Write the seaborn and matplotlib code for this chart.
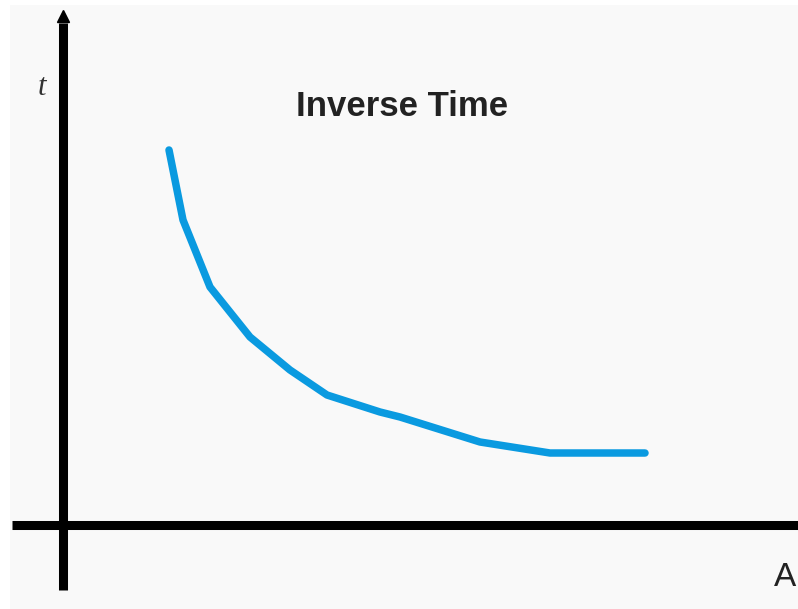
import numpy as np
import pandas as pd
import matplotlib
matplotlib.use("Agg")
import matplotlib.pyplot as plt
import seaborn as sns

sns.set_theme(style="white")
plt.rcParams['font.family'] = ['Liberation Sans', 'DejaVu Sans']

# curve (arbitrary units, axis cross = origin)
current = [1.06, 1.20, 1.47, 1.87, 2.27, 2.64, 3.17, 3.37, 4.17, 4.87, 5.82]
time = [3.75, 3.05, 2.38, 1.88, 1.55, 1.30, 1.13, 1.08, 0.83, 0.72, 0.72]

df = pd.DataFrame({"A": current, "t": time})

fig = plt.figure(figsize=(7.98, 6.09), dpi=100, facecolor="white")
ax = fig.add_axes([10 / 798, 0, 788 / 798, 604 / 609])
ax.set_facecolor("#f9f9f9")

sns.lineplot(data=df, x="A", y="t", ax=ax, color="#0a9ae0", linewidth=5.4,
             sort=False, estimator=None)

ax.set_xlim(-0.53, 7.35)
ax.set_ylim(-0.84, 5.20)

# the two axis lines
for s in ax.spines.values():
    s.set_visible(False)
ax.plot([-0.51, 7.37], [0, 0], color="black", lw=6.5, solid_capstyle="butt",
        clip_on=False)
ax.plot([0, 0], [-0.65, 5.02], color="black", lw=6.5, solid_capstyle="butt",
        clip_on=False)
ax.plot([0], [5.09], marker="^", color="black", markersize=8, clip_on=False)

ax.set_xticks([])
ax.set_yticks([])
ax.set_xlabel("")
ax.set_ylabel("")

ax.text(3.39, 4.18, "Inverse Time", fontsize=25, fontweight="bold",
        ha="center", va="center", color="#222222")
ax.text(-0.21, 4.37, "t", fontsize=22, style="italic", family="Liberation Serif",
        ha="center", va="center", color="#333333")
ax.text(7.22, -0.52, "A", fontsize=24, ha="center", va="center", color="#222222")

fig.savefig("out.png", dpi=100, facecolor=fig.get_facecolor())
